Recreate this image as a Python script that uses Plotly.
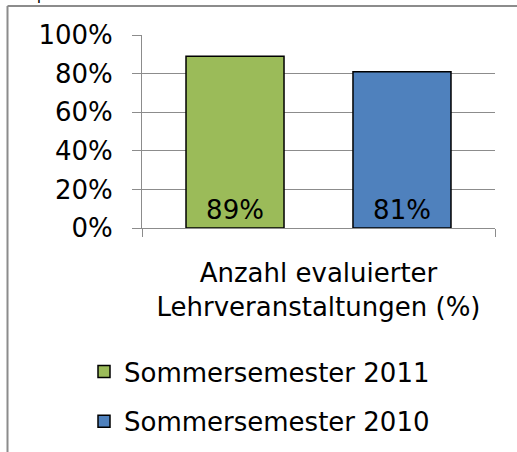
import plotly.graph_objects as go

categories = ["Anzahl evaluierter<br>Lehrveranstaltungen (%)"]
series_names = ["Sommersemester 2011", "Sommersemester 2010"]
series_values = [[0.89], [0.81]]
series_colors = ["#9BBB59", "#4F81BD"]
y_ticks = [0, 0.2, 0.4, 0.6, 0.8, 1.0]
chart_title = "Graphik 1"

W, H = 517, 452
ML, MR, MT, MB = 142, 22, 35, 224
PW, PH = W - ML - MR, H - MT - MB
FONT = "DejaVu Sans"
GRID = "#8C8C8C"

fig = go.Figure()
for i, (name, vals, col) in enumerate(zip(series_names, series_values, series_colors)):
    fig.add_trace(go.Bar(
        x=categories, y=vals, name=name, legendgroup=name,
        marker=dict(color=col, line=dict(color="black", width=1.5)),
        texttemplate="%{y:.0%}", textposition="inside", insidetextanchor="start",
        textfont=dict(size=26, color="black", family=FONT), textangle=0,
    ))

def px_x(p):
    return (p - ML) / PW

def px_y(p):
    return (H - MB - p) / PH

fig.update_layout(
    width=W, height=H,
    margin=dict(l=ML, r=MR, t=MT, b=MB, pad=0, autoexpand=False),
    paper_bgcolor="white", plot_bgcolor="white",
    font=dict(family=FONT, size=26, color="black"),
    barmode="group", bargap=0.054, bargroupgap=0.413,
    showlegend=True,
    legend=dict(x=px_x(84), y=px_y(348), xanchor="left", yanchor="top",
                traceorder="grouped", tracegroupgap=13,
                font=dict(size=26, family=FONT, color="black"),
                bgcolor="rgba(0,0,0,0)", itemwidth=30),
    uniformtext=dict(minsize=10, mode="show"),
)
fig.update_yaxes(range=[0, 1], tickvals=y_ticks, tickformat=".0%",
                 showgrid=True, gridcolor=GRID, gridwidth=1,
                 showline=True, linecolor=GRID, linewidth=1,
                 ticks="outside", ticklen=9, tickcolor=GRID,
                 ticklabelstandoff=14, zeroline=False, fixedrange=True)
fig.update_xaxes(showline=True, linecolor=GRID, linewidth=1,
                 ticks="outside", ticklen=8, tickcolor=GRID, tickson="boundaries",
                 ticklabelstandoff=22, showgrid=False, fixedrange=True)

# chart frame (left and top border) and clipped title
fig.add_shape(type="line", xref="paper", yref="paper",
              x0=px_x(7.5), x1=px_x(7.5), y0=px_y(6), y1=px_y(H + 5),
              line=dict(color="#8C8C8C", width=2))
fig.add_shape(type="line", xref="paper", yref="paper",
              x0=px_x(7.5), x1=px_x(W + 5), y0=px_y(6), y1=px_y(6),
              line=dict(color="#8C8C8C", width=2))
fig.add_annotation(text=chart_title, xref="paper", yref="paper",
                   x=px_x(6), y=px_y(6), xanchor="left", yanchor="bottom",
                   showarrow=False, font=dict(size=16, family=FONT, color="black"))

fig.write_html("out.html", config={"displayModeBar": False},
               post_script="document.body.style.margin='0px';")
